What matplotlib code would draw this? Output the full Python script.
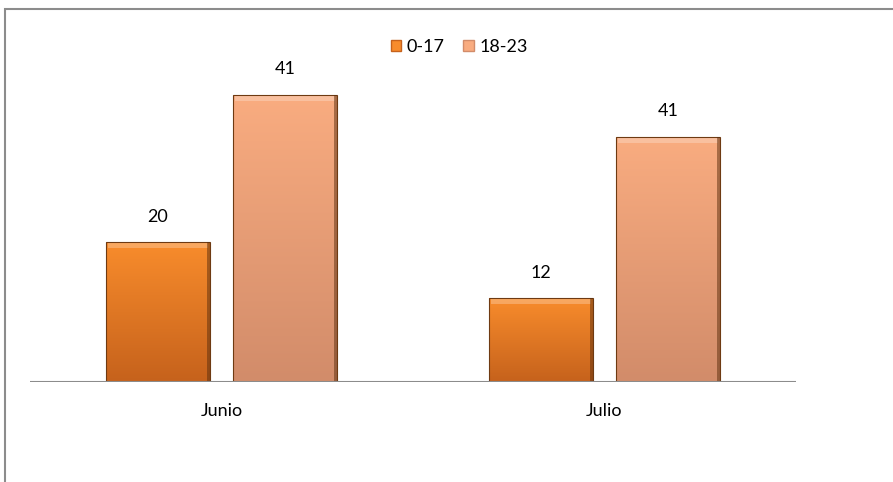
import numpy as np
import matplotlib
matplotlib.use("Agg")
import matplotlib.pyplot as plt
from matplotlib.patches import Rectangle
from matplotlib.colors import LinearSegmentedColormap

plt.rcParams['font.family'] = ['Lato', 'DejaVu Sans']

categories = ["Junio", "Julio"]
series = ["0-17", "18-23"]
values_017 = [20, 12]
values_1823 = [41, 35]
labels_017 = ["20", "12"]
labels_1823 = ["41", "41"]

colors_top = ["#F88C2C", "#F9AC80"]
colors_bot = ["#C6621C", "#D28C6A"]

fig = plt.figure(figsize=(8.93, 4.82), dpi=100)
# outer frame
fig.patches.append(Rectangle((4.5 / 893, -0.1), 2.0, 1.1 - 8.5 / 482,
                             transform=fig.transFigure, fill=False,
                             edgecolor="#8c8c8c", linewidth=1.5))

ax = fig.add_axes([30 / 893, 100 / 482, 766 / 893, 315 / 482])
ax.set_xlim(-0.5, 1.5)
ax.set_ylim(0, 45)
for s in ax.spines.values():
    s.set_visible(False)
ax.set_yticks([])
ax.set_xticks(range(len(categories)))
ax.set_xticklabels(categories, fontsize=13)
ax.tick_params(axis="x", length=0, pad=15)
ax.axhline(0, color="#8c8c8c", linewidth=1.5, zorder=5)

width = 0.27
offsets = [-0.166, 0.166]
all_vals = [values_017, values_1823]
all_labels = [labels_017, labels_1823]

for si, (vals, labs) in enumerate(zip(all_vals, all_labels)):
    cmap = LinearSegmentedColormap.from_list("g%d" % si, [colors_bot[si], colors_top[si]])
    for ci, v in enumerate(vals):
        x0 = ci + offsets[si] - width / 2
        grad = np.linspace(0, 1, 100).reshape(-1, 1)
        ax.imshow(grad, extent=(x0, x0 + width, 0, v), origin="lower",
                  cmap=cmap, aspect="auto", zorder=2)
        ax.add_patch(Rectangle((x0, 0), width, v, fill=False,
                               edgecolor="#6e3a12", linewidth=0.8, zorder=3))
        # bevel highlight on top and dark right side
        ax.add_patch(Rectangle((x0 + 0.004, v - 0.8), width - 0.008, 0.6,
                               color="white", alpha=0.25, linewidth=0, zorder=3))
        ax.add_patch(Rectangle((x0 + width - 0.006, 0), 0.006, v,
                               color="#5a2e0e", alpha=0.5, linewidth=0, zorder=3))
        ax.text(ci + offsets[si], v + 2.5, labs[ci], ha="center", va="bottom",
                fontsize=13, color="black")

handles = [Rectangle((0, 0), 1, 1, facecolor=colors_top[i], edgecolor=colors_bot[i])
           for i in range(2)]
fig.legend(handles, series, loc="center", bbox_to_anchor=(459 / 893, 1 - 47 / 482),
           ncol=2, frameon=False, fontsize=13, handlelength=0.6, handleheight=0.6,
           handletextpad=0.3, columnspacing=1.0)

fig.savefig("out.png", dpi=100)
